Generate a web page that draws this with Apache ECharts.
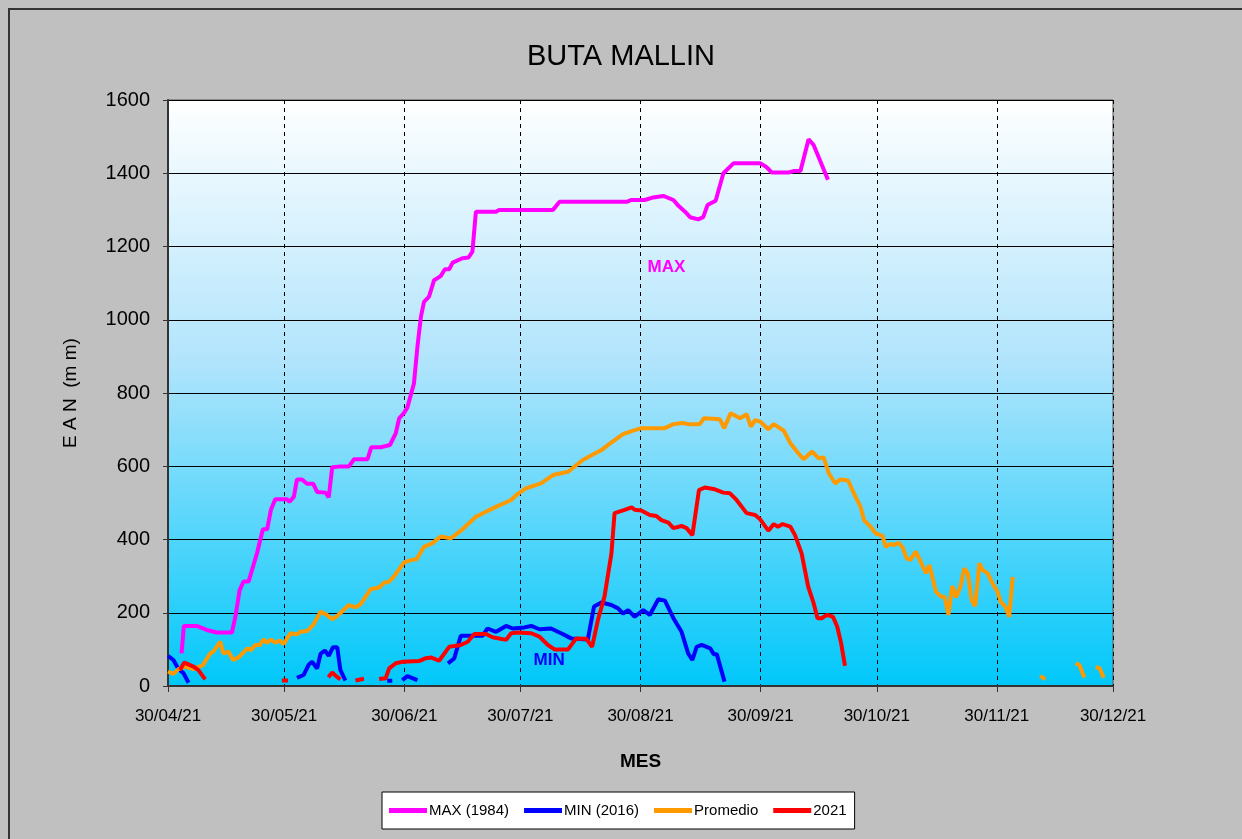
<!DOCTYPE html>
<html style="height: 100%">
<head>
    <meta charset="UTF-8">
    <title>BUTA MALLIN</title>
    <script src="https://cdn.jsdelivr.net/npm/echarts/dist/echarts.min.js"></script>
</head>
<body style="height: 100%; margin: 0; background: #c0c0c0">
    <div id="main" style="width: 1242px; height: 839px"></div>
    <script type="text/javascript">
        // x = dias desde 30/04/21
        var xTickDays = [0, 30, 61, 91, 122, 153, 183, 214, 244];
        var xTickLabels = ['30/04/21', '30/05/21', '30/06/21', '30/07/21', '30/08/21', '30/09/21', '30/10/21', '30/11/21', '30/12/21'];
        var seriesNames = ['MAX (1984)', 'MIN (2016)', 'Promedio', '2021'];

        var maxData = [[3.5,89],[4.1,164],[7.4,164],[10,153],[12.6,146],[16.5,146],[17.4,189],[18.5,262],[19.5,285],[20.8,285],
            [23,363],[24.5,428],[25.6,428],[26.6,482],[27.7,510],[30.7,510],[31.4,503],[32.5,517],[33.3,564],[34.6,564],
            [35.9,552],[37.5,552],[38.5,530],[40.7,528],[41.5,515],[42.4,597],[44.1,599],[46.7,599],[48,619],[51.5,619],
            [52.5,652],[54.9,652],[57.3,658],[58.8,690],[59.7,731],[60.9,745],[61.8,760],[63.5,826],[64.4,926],[65.3,1008],
            [66.1,1049],[67.4,1063],[68.7,1108],[70.4,1119],[71.5,1138],[72.6,1138],[73.5,1156],[76,1168],[77.6,1170],[78.6,1186],
            [79.5,1295],[84.7,1295],[85.5,1300],[99.4,1300],[101.1,1322],[118.4,1322],[119.7,1327],[123.1,1327],[125.3,1334],[127.9,1338],
            [130.5,1327],[131.8,1311],[133.5,1295],[134.8,1280],[136.9,1274],[138.2,1280],[139.3,1313],[141.4,1325],[143.4,1400],[146,1427],
            [152.9,1427],[154.4,1418],[155.9,1402],[160.2,1402],[161.5,1406],[163.3,1406],[165.4,1493],[166.7,1477],[170.4,1382]];

        var minData = [[0,82],[1.4,71],[2.7,46],[4,35],[5.3,9],[5.6,null],
            [33.3,22],[35,30],[36.3,58],[37.2,66],[38.5,48],[39.4,88],[40.5,97],[41.5,82],[42.6,106],[43.7,106],[44.5,44],[45.8,15],[46,null],
            [56.6,14],[57.9,14],[58.5,null],
            [60.5,16],[61.8,27],[64.4,16],[65,null],
            [72.3,62],[73.9,75],[75.6,137],[81.2,137],[82.5,157],[84.7,148],[87.3,164],[89,157],[92,160],[93.8,164],
            [95.9,155],[98.9,157],[101.5,144],[104.1,130],[108.4,127],[110,217],[111.9,228],[114.5,221],[116.2,212],[117.5,198],
            [118.8,207],[120.5,189],[122.7,207],[124.4,194],[126.6,237],[128.3,233],[130.5,185],[132.6,148],[134.3,89],[135.4,71],
            [136.5,107],[137.8,112],[140,103],[140.9,87],[141.7,87],[142.6,53],[143.7,12]];

        var promData = [[0,39],[1.4,33],[2.7,46],[4.4,53],[6.6,46],[9,57],[10.9,89],[11.7,94],[13.5,121],[14.3,89],
            [15.6,94],[16.8,71],[18.2,78],[20.5,103],[21.4,98],[22.5,112],[23.7,112],[24.7,127],[25.6,118],[26.6,127],
            [27.7,118],[28.8,124],[29.9,115],[31.6,144],[33.2,141],[34.2,148],[35.9,150],[37.5,167],[39.4,203],[41.1,194],
            [42.4,182],[43.7,191],[46.7,221],[48.4,215],[49.7,223],[52.3,264],[54.5,269],[55.8,282],[57.1,285],[58.4,300],
            [60.9,337],[62.7,344],[64.2,346],[66.1,380],[68.3,390],[70.4,408],[73,403],[75.6,424],[79.5,462],[82.1,476],
            [85.1,491],[88.6,508],[89.9,521],[92.5,540],[96.3,553],[99.4,576],[103.3,585],[107.1,617],[110.2,635],[111.9,644],
            [114,661],[117.5,688],[119.7,696],[122.2,704],[128.3,704],[130.5,715],[132.9,718],[134.3,715],[137.3,715],[138.4,731],
            [142.5,728],[143.6,704],[145.3,745],[147.7,731],[149.4,742],[150.5,708],[151.6,726],[152.9,722],[155,701],[156.4,715],
            [159,697],[160.7,663],[162.4,640],[164.1,619],[166.3,640],[168,622],[169.3,624],[170.6,581],[172.3,553],[173.6,564],
            [175.6,561],[177.1,526],[178.8,490],[179.7,453],[181.4,435],[182.7,417],[184.5,410],[185.3,380],[186.6,388],[187.5,385],
            [188.6,391],[189.6,380],[190.7,349],[191.6,344],[193.1,367],[195.7,308],[196.6,330],[198.3,257],[199.6,244],[200.5,244],
            [201.5,194],[202.5,273],[203.5,242],[204.6,271],[205.6,321],[206.5,308],[207.5,235],[208.4,218],[209.5,335],[210.3,317],
            [211.6,308],[212.9,280],[214.2,257],[215,230],[216.2,217],[217.2,189],[218.1,298],[219,null],
            [225.2,28],[226.5,18],[227,null],
            [234.3,62],[235.3,58],[236.6,23],[237,null],
            [239.5,51],[240.5,49],[241.6,23]];

        var data2021 = [[3.1,44],[4.2,64],[6.6,53],[7.8,44],[9.6,18],[10,null],
            [29.4,15],[31,15],[31.5,null],
            [41.4,24],[42.4,37],[43.4,27],[44.5,18],[45,null],
            [48.4,15],[50.6,20],[51,null],
            [54.5,19],[56.2,21],[57.1,48],[58.8,62],[60.5,66],[64.8,68],[66.6,76],[67.9,78],[70,69],[72.6,107],
            [73.9,109],[75.6,112],[77.4,121],[79.1,142],[82.1,142],[83.8,133],[87.3,126],[88.6,144],[90.3,146],[93.8,144],
            [95.9,135],[98.1,112],[99.8,100],[103.3,100],[105.4,130],[108,129],[109.5,107],[111,180],[112.7,244],[114.5,362],
            [115.3,472],[117.9,481],[119.7,488],[120.5,481],[122.2,479],[124.4,467],[126.1,464],[127.4,453],[129.2,446],[130.5,431],
            [132.6,437],[133.9,431],[135.4,412],[137.1,535],[138.6,542],[141.2,537],[143.4,528],[145.1,526],[146.8,508],[149.4,472],
            [151.6,467],[152.9,455],[155,424],[156.4,442],[157.5,435],[158.7,442],[160.7,435],[161.9,412],[163.6,362],[165.3,271],
            [166.6,230],[167.7,185],[168.8,185],[170.1,194],[171.7,189],[172.8,162],[173.8,117],[174.8,55]];

        var seriesData = [maxData, minData, promData, data2021];
        var seriesColors = ['#ff00ff', '#0000ff', '#ff9900', '#ff0000'];

        var fontMain = "'Liberation Sans', Arial, sans-serif";

        var myChart = echarts.init(document.getElementById('main'));

        var series = seriesNames.map(function (name, i) {
            return {
                name: name,
                type: 'line',
                data: seriesData[i],
                showSymbol: false,
                connectNulls: false,
                lineStyle: { color: seriesColors[i], width: 4 },
                itemStyle: { color: seriesColors[i] },
                animation: false
            };
        });
        // etiquetas MAX / MIN dentro del grafico
        series[0].markPoint = {
            symbol: 'rect', symbolSize: 0,
            label: { show: true, position: 'inside', formatter: 'MAX', color: '#ff00ff', fontWeight: 'bold', fontSize: 17, fontFamily: fontMain },
            data: [{ coord: [128.7, 1144] }]
        };
        series[1].markPoint = {
            symbol: 'rect', symbolSize: 0,
            label: { show: true, position: 'inside', formatter: 'MIN', color: '#0000ff', fontWeight: 'bold', fontSize: 17, fontFamily: fontMain },
            data: [{ coord: [98.4, 71] }]
        };

        var option = {
            backgroundColor: '#c0c0c0',
            animation: false,
            textStyle: { fontFamily: fontMain, color: '#000' },
            title: {
                text: 'BUTA MALLIN',
                left: 'center',
                top: 37,
                textStyle: { fontSize: 29, fontWeight: 'normal', color: '#000', fontFamily: fontMain }
            },
            graphic: [{
                type: 'rect',
                shape: { x: 9, y: 9, width: 1260, height: 860 },
                style: { fill: 'none', stroke: '#333', lineWidth: 2 },
                silent: true
            }],
            legend: {
                data: seriesNames,
                left: 382,
                top: 792,
                padding: [11, 8, 11, 7],
                itemGap: 15,
                itemWidth: 38,
                itemHeight: 5,
                icon: 'rect',
                backgroundColor: '#fff',
                borderColor: '#000',
                borderWidth: 1,
                textStyle: { fontSize: 15, color: '#000', fontFamily: fontMain, padding: [0, 0, 0, -3] }
            },
            grid: {
                left: 168,
                top: 100,
                right: 129,
                bottom: 153,
                show: true,
                borderColor: '#555',
                borderWidth: 1,
                backgroundColor: {
                    type: 'linear', x: 0, y: 0, x2: 0, y2: 1,
                    colorStops: [
                        { offset: 0, color: '#ffffff' },
                        { offset: 0.45, color: '#b0e4fc' },
                        { offset: 1, color: '#00c8fa' }
                    ]
                }
            },
            xAxis: {
                type: 'value',
                min: 0,
                max: 244,
                name: 'MES',
                nameLocation: 'middle',
                nameGap: 66,
                nameTextStyle: { fontSize: 19, fontWeight: 'bold', color: '#000', fontFamily: fontMain },
                axisLine: { show: true, onZero: false, lineStyle: { color: '#333', width: 2 } },
                axisTick: { show: true, customValues: xTickDays, length: 6, lineStyle: { color: '#333' } },
                axisLabel: {
                    customValues: xTickDays,
                    margin: 22,
                    fontSize: 17,
                    color: '#000',
                    formatter: function (v) { return xTickLabels[xTickDays.indexOf(v)]; }
                },
                splitLine: { show: true, lineStyle: { color: '#000', type: [4, 4], width: 1 } }
            },
            yAxis: {
                type: 'value',
                min: 0,
                max: 1600,
                interval: 200,
                name: 'E A N  (m m)',
                nameLocation: 'middle',
                nameGap: 88,
                nameRotate: 90,
                nameTextStyle: { fontSize: 19, color: '#000', fontFamily: fontMain },
                axisLine: { show: true, lineStyle: { color: '#333', width: 2 } },
                axisTick: { show: true, length: 5, lineStyle: { color: '#333' } },
                axisLabel: {
                    margin: 18,
                    fontSize: 20,
                    color: '#000',
                    formatter: function (v) { return String(v); }
                },
                splitLine: { show: true, lineStyle: { color: '#000', width: 1 } }
            },
            series: series
        };

        myChart.setOption(option);
    </script>
</body>
</html>
